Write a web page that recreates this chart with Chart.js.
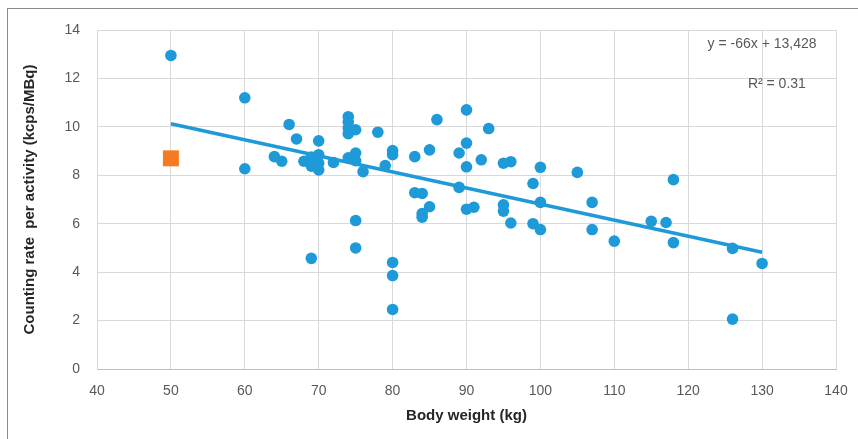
<!DOCTYPE html>
<html>
<head>
<meta charset="utf-8">
<script src="https://cdn.jsdelivr.net/npm/chart.js@4"></script>
<style>
    html, body { margin: 0; padding: 0; background: #ffffff; }
    #wrap { position: relative; width: 858px; height: 439px; }
    #frame { position: absolute; left: 7px; top: 8px; right: -5px; bottom: -5px; border-left: 1px solid #8c8c8c; border-top: 1px solid #8c8c8c; pointer-events: none; }
</style>
</head>
<body>
<div id="wrap">
    <canvas id="weightChart" width="858" height="439"></canvas>
    <div id="frame"></div>
</div>
<script>
// patient body weight (kg) and counting rate per activity (kcps/MBq)
const weights = [50, 60, 60, 64, 65, 66, 67, 68, 69, 69, 69, 70, 70, 70, 70, 72, 74, 74, 74, 74,
    74, 75, 75, 75, 75, 75, 76, 78, 79, 80, 80, 80, 80, 80, 83, 83, 84, 84, 84, 85,
    85, 86, 89, 89, 90, 90, 90, 90, 91, 92, 93, 95, 95, 95, 96, 96, 99, 99, 100, 100,
    100, 105, 107, 107, 110, 115, 117, 118, 118, 126, 126, 130];
const rates = [12.95, 11.2, 8.27, 8.77, 8.58, 10.1, 9.5, 8.58, 8.75, 8.38, 4.57, 9.42, 8.85, 8.5, 8.22, 8.53, 10.42, 10.2, 9.95, 9.72,
    8.72, 9.88, 8.92, 8.6, 6.13, 5.0, 8.15, 9.78, 8.4, 9.02, 8.85, 4.4, 3.86, 2.46, 8.77, 7.28, 7.25, 6.42, 6.27, 9.05,
    6.7, 10.3, 8.92, 7.5, 10.7, 9.33, 8.35, 6.6, 6.68, 8.64, 9.93, 8.5, 6.78, 6.52, 8.56, 6.03, 7.66, 6.0, 8.33, 6.88,
    5.76, 8.12, 6.88, 5.76, 5.28, 6.1, 6.05, 7.82, 5.22, 4.98, 2.06, 4.36];

// highlighted patient (orange square)
const highlightWeights = [50];
const highlightRates = [8.7];

// linear trend line end points
const trendWeights = [50, 130];
const trendRates = [10.13, 4.82];

const equationLabels = ["y = -66x + 13,428", "R\u00b2 = 0.31"];

const xTicks = [40, 50, 60, 70, 80, 90, 100, 110, 120, 130, 140];
const yTicks = [0, 2, 4, 6, 8, 10, 12, 14];

const BLUE = "#1f9ad8";
const ORANGE = "#f47b20";
const TICK_COLOR = "#595959";
const GRID_COLOR = "#d9d9d9";
const FONT = "'Liberation Sans Narrow', 'Liberation Sans', Arial, sans-serif";

function toPoints(xs, ys) {
    return xs.map(function (x, i) { return { x: x, y: ys[i] }; });
}

// draws the regression text in the upper right corner
const equationPlugin = {
    id: "equation",
    afterDatasetsDraw: function (chart) {
        const ctx = chart.ctx;
        const xs = chart.scales.x;
        const ys = chart.scales.y;
        ctx.save();
        ctx.fillStyle = TICK_COLOR;
        ctx.font = "14px " + FONT;
        ctx.textAlign = "center";
        ctx.textBaseline = "middle";
        ctx.fillText(equationLabels[0], xs.getPixelForValue(130), ys.getPixelForValue(13.4));
        ctx.fillText(equationLabels[1], xs.getPixelForValue(132), ys.getPixelForValue(11.75));
        ctx.restore();
    }
};

function LoadWeightChart() {
    const ctx = document.getElementById("weightChart").getContext("2d");

    new Chart(ctx, {
        type: "scatter",
        data: {
            datasets: [{
                label: "Patients",
                data: toPoints(weights, rates),
                backgroundColor: BLUE,
                borderColor: BLUE,
                pointRadius: 5.8,
                pointBorderWidth: 0,
                order: 1
            }, {
                label: "Highlighted",
                data: toPoints(highlightWeights, highlightRates),
                backgroundColor: ORANGE,
                borderColor: ORANGE,
                pointStyle: "rect",
                pointRadius: 11.3,
                pointBorderWidth: 0,
                order: 0
            }, {
                label: "Trend",
                type: "line",
                data: toPoints(trendWeights, trendRates),
                borderColor: BLUE,
                borderWidth: 3.5,
                pointRadius: 0,
                fill: false,
                order: 2
            }]
        },
        options: {
            responsive: false,
            animation: false,
            layout: { padding: { top: 30, right: 22, left: 0, bottom: 0 } },
            plugins: {
                legend: { display: false },
                tooltip: { enabled: false }
            },
            scales: {
                x: {
                    type: "linear",
                    min: 40,
                    max: 140,
                    afterBuildTicks: function (scale) {
                        scale.ticks = xTicks.map(function (v) { return { value: v }; });
                    },
                    afterFit: function (scale) {
                        scale.height = 70;
                        scale.paddingLeft = 0;
                        scale.paddingRight = 0;
                    },
                    grid: { color: GRID_COLOR, lineWidth: 1, drawTicks: false },
                    border: { color: "#bfbfbf", width: 1 },
                    ticks: {
                        color: TICK_COLOR,
                        padding: 14,
                        font: { family: FONT, size: 14 },
                        maxRotation: 0
                    },
                    title: {
                        display: true,
                        text: "Body weight (kg)",
                        color: "#262626",
                        font: { family: FONT, size: 15, weight: "bold" },
                        padding: { top: 0, bottom: 14 }
                    }
                },
                y: {
                    type: "linear",
                    min: 0,
                    max: 14,
                    afterBuildTicks: function (scale) {
                        scale.ticks = yTicks.map(function (v) { return { value: v }; });
                    },
                    afterFit: function (scale) {
                        scale.width = 97;
                        scale.paddingTop = 0;
                        scale.paddingBottom = 0;
                    },
                    grid: { color: GRID_COLOR, lineWidth: 1, drawTicks: false },
                    border: { color: GRID_COLOR, width: 1 },
                    ticks: {
                        color: TICK_COLOR,
                        padding: 17,
                        font: { family: FONT, size: 14 }
                    },
                    title: {
                        display: true,
                        text: "Counting rate  per activity (kcps/MBq)",
                        color: "#262626",
                        font: { family: FONT, size: 15, weight: "bold" },
                        padding: { top: 21, bottom: 0 }
                    }
                }
            }
        },
        plugins: [equationPlugin]
    });
}

LoadWeightChart();
</script>
</body>
</html>
